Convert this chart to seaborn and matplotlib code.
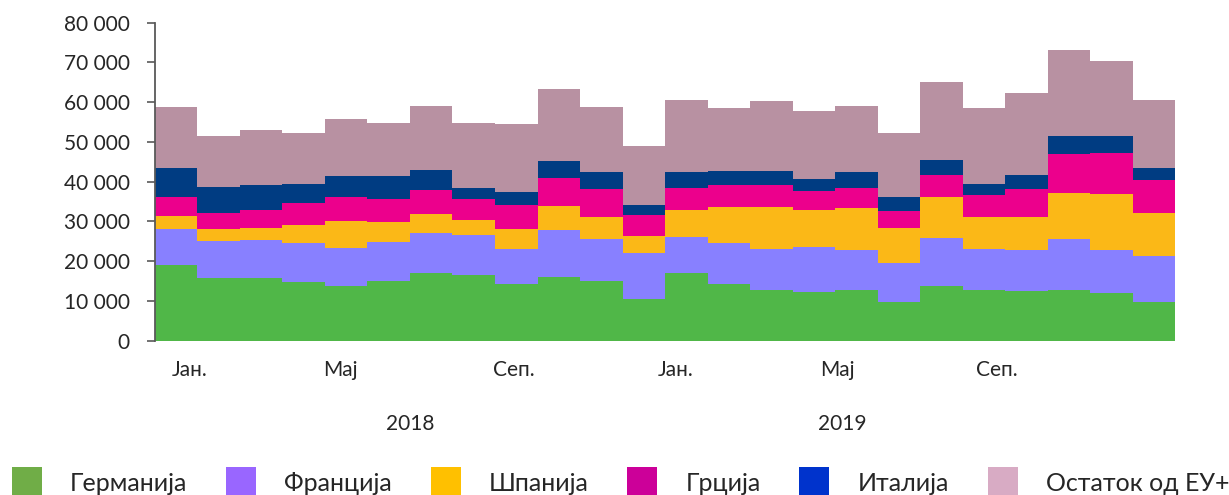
import numpy as np
import pandas as pd
import seaborn as sns
import matplotlib.pyplot as plt
from matplotlib.patches import Patch
from matplotlib.ticker import FuncFormatter
from matplotlib.transforms import blended_transform_factory

############################################################## Data

months = list(range(24))  # Jan 2018 .. Dec 2019
countries = ['Германија', 'Франција', 'Шпанија', 'Грција', 'Италија', 'Остаток од ЕУ+']

germany = [19050, 15700, 15700, 14850, 13840, 15100, 17110, 16530, 14190, 15950, 15100, 10410,
           17110, 14190, 12840, 12170, 12840, 9660, 13840, 12840, 12500, 12840, 11920, 9810]
france = [9130, 9380, 9710, 9650, 9560, 9810, 10060, 10060, 8960, 11980, 10570, 11580,
          9060, 10390, 10230, 11400, 10020, 9810, 12080, 10230, 10400, 12830, 10980, 11580]
spain = [3270, 3020, 2950, 4690, 6640, 4880, 4710, 3780, 4950, 5880, 5450, 4280,
         6710, 9140, 10650, 9310, 10610, 8890, 10240, 8130, 8300, 11570, 14010, 10660]
greece = [4710, 3950, 4520, 5460, 6040, 5860, 5960, 5200, 6120, 7200, 7120, 5280,
          5460, 5530, 5530, 4780, 4950, 4270, 5610, 5460, 6890, 9810, 10390, 8300]
italy = [7370, 6620, 6370, 4850, 5430, 5860, 5180, 2770, 3270, 4200, 4130, 2670,
         4030, 3450, 3450, 3020, 3950, 3450, 3770, 2760, 3680, 4530, 4280, 3180]
rest_eu = [15270, 12910, 13760, 12680, 14190, 13260, 16110, 16430, 16950, 18190, 16430, 14770,
           18190, 15850, 17530, 17030, 16720, 16100, 19630, 19130, 20550, 21640, 18790, 17030]

tick_pos = [0.32, 3.87, 7.95, 11.75, 15.55, 19.3]
tick_labels = ['Јан.', 'Мај', 'Сеп.', 'Јан.', 'Мај', 'Сеп.']
years = ['2018', '2019']
year_pos = [5.5, 15.66]

bar_colors = ['#50B748', '#8880FF', '#FBB817', '#EC008C', '#003C82', '#B891A2']
legend_colors = ['#70AD47', '#9966FF', '#FFC000', '#CC0099', '#0033CC', '#D8ABC4']

df = pd.DataFrame({
    'month': months * 6,
    'country': np.repeat(countries, 24),
    'value': germany + france + spain + greece + italy + rest_eu,
})

############################################################## Plot

sns.set_style('white')
plt.rcParams['font.family'] = ['Lato', 'DejaVu Sans']

fig = plt.figure(figsize=(12.29, 4.95), dpi=100)
ax = fig.add_axes([0.1261, 0.3117, 0.8300, 0.6424])

# seaborn stacks hue levels in reverse order, so reverse to keep Германија at the bottom
sns.histplot(data=df, x='month', weights='value', hue='country', hue_order=countries[::-1],
             palette=dict(zip(countries, bar_colors)), multiple='stack', discrete=True,
             shrink=1, element='bars', linewidth=0, alpha=1, legend=False, ax=ax)

ax.set_xlim(-0.5, 23.5)
ax.set_ylim(0, 80000)
ax.set_yticks(range(0, 80001, 10000))
ax.yaxis.set_major_formatter(FuncFormatter(lambda v, p: f'{int(v):,}'.replace(',', ' ')))
ax.set_xlabel('')
ax.set_ylabel('')

sns.despine(ax=ax, bottom=True)
ax.spines['left'].set_color('#595959')
ax.spines['left'].set_linewidth(1.3)
ax.tick_params(axis='y', left=True, length=6, width=1.2, color='#595959', labelsize=15, pad=12)
ax.set_xticks(tick_pos)
ax.set_xticklabels(tick_labels)
ax.tick_params(axis='x', bottom=False, length=0, labelsize=15, pad=14)

trans = blended_transform_factory(ax.transData, ax.transAxes)
for pos, yr in zip(year_pos, years):
    ax.text(pos, -0.262, yr, transform=trans, ha='center', va='center', fontsize=15)

# legend swatches use lighter colours than the areas, as in the source chart
handles = [Patch(facecolor=c, edgecolor='none') for c in legend_colors]
fig.legend(handles, countries, loc='upper center', bbox_to_anchor=(0.505, 1 - 467 / 495),
           ncol=6, frameon=False, fontsize=18, handlelength=1.2, handleheight=1.52,
           handletextpad=1.12, columnspacing=1.55, borderpad=0, borderaxespad=0)

fig.savefig('out.png', dpi=100)
